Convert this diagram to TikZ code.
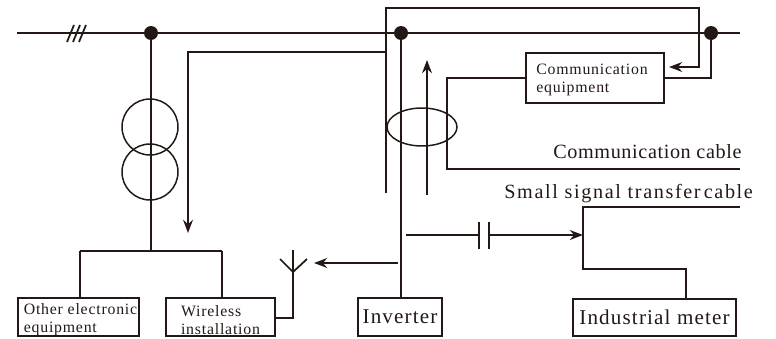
\documentclass[tikz,border=0pt]{standalone}
\usepackage{fontspec}
\setmainfont{Liberation Serif}
\usetikzlibrary{arrows.meta,calc,positioning,shapes.geometric}
\definecolor{inkline}{HTML}{231815}
\tikzset{
  block/.style={draw=inkline,rectangle,line width=1pt,inner sep=0pt,align=left,text=inkline},
  smalltext/.style={font=\addfontfeature{LetterSpace=5}\fontsize{9}{10.2}\selectfont},
  bigtext/.style={font=\addfontfeature{LetterSpace=5.5}\fontsize{12}{14}\selectfont},
  cabletext/.style={font=\addfontfeature{LetterSpace=3}\fontsize{11.5}{14}\selectfont,text=inkline,inner sep=0pt},
  busdot/.style={circle,fill=inkline,inner sep=0pt,minimum size=0.28cm},
  winding/.style={draw=inkline,circle,line width=0.85pt,inner sep=0pt,minimum size=1.12cm},
  clamp/.style={draw=inkline,ellipse,line width=0.85pt,inner sep=0pt,minimum width=1.4cm,minimum height=0.76cm},
  wire/.style={draw=inkline,line width=1pt}
}
\begin{document}
\begin{tikzpicture}[>=Stealth,x=0.02cm,y=-0.02cm]
  \useasboundingbox (0,0) rectangle (776,338);
  % bus
  \coordinate (busl) at (17,33);
  \coordinate (busr) at (740,33);
  \node[busdot] (dota) at (151,33) {};
  \node[busdot] (dotb) at (401,33) {};
  \node[busdot] (dotc) at (711,33) {};
  \draw[wire] (busl) -- (busr);
  \coordinate (hatcha) at (67,42);
  \coordinate (hatchb) at (73,42);
  \coordinate (hatchc) at (79,42);
  \draw[wire] (hatcha) -- ++(7,-17);
  \draw[wire] (hatchb) -- ++(7,-17);
  \draw[wire] (hatchc) -- ++(7,-17);
  % transformer
  \node[winding] (wta) at (150,127) {};
  \node[winding] (wtb) at (150,172) {};
  \coordinate (tee) at (151,251);
  \draw[wire] (dota) -- (tee);
  % boxes
  \node[block,smalltext,minimum width=2.42cm,minimum height=0.76cm] (other) at (78.5,317) {\rule{0pt}{9.6pt}\hspace*{0.08cm}Other electronic\\\hspace*{0.08cm}equipment};
  \node[block,smalltext,minimum width=2.18cm,minimum height=0.76cm] (wireless) at (220.5,317) {\rule{0pt}{9.6pt}Wireless\\installation};
  \node[block,bigtext,minimum width=1.68cm,minimum height=0.76cm] (inv) at (400,317) {Inverter};
  \node[block,bigtext,minimum width=3.26cm,minimum height=0.74cm] (meter) at (654.5,317.5) {Industrial meter};
  \node[block,smalltext,minimum width=2.76cm,minimum height=1cm] (comm) at (595,78) {\rule{0pt}{8.5pt}Communication\hspace*{0.12cm}\\equipment};
  \coordinate (otherdrop) at (80,251);
  \coordinate (wiredrop) at (222,251);
  \draw[wire] (otherdrop) -- (wiredrop);
  \draw[wire] (other.north -| otherdrop) -- (otherdrop);
  \draw[wire] (wireless.north -| wiredrop) -- (wiredrop);
  % antenna
  \coordinate (anttop) at (293,250);
  \coordinate (antfork) at (293,272);
  \coordinate (antl) at (280,259);
  \coordinate (antr) at (307,259);
  \draw[wire] (wireless.east |- 0,318) -| (anttop);
  \draw[wire] (antl) -- (antfork) -- (antr);
  \coordinate (radio) at (398,263);
  \coordinate (radioend) at (314,263);
  \draw[wire,->] (radio) -- (radioend);
  % conductors through the clamp
  \draw[wire] (dotb) -- (inv.north -| dotb);
  \coordinate (loopend) at (386,193);
  \coordinate (looptl) at (386,8);
  \coordinate (looptr) at (699,8);
  \coordinate (loopbr) at (699,67);
  \coordinate (loopin) at (669,67);
  \draw[wire,->] (loopend) -- (looptl) -- (looptr) -- (loopbr) -- (loopin);
  \coordinate (branch) at (386,52);
  \coordinate (branchc) at (188,52);
  \coordinate (branchend) at (188,233);
  \draw[wire,->] (branch) -- (branchc) -- (branchend);
  \coordinate (upa) at (427,195);
  \coordinate (upb) at (427,60);
  \draw[wire,->] (upa) -- (upb);
  \node[clamp] (ring) at (422,127) {};
  \coordinate (cabc) at (447,78);
  \coordinate (cabd) at (447,169);
  \coordinate (cabe) at (740,169);
  \draw[wire] (comm.west |- cabc) -- (cabc) -- (cabd) -- (cabe);
  \draw[wire] (comm.east) -| (dotc);
  \node[cabletext,anchor=base west] (cablea) at (553,158) {Communication cable};
  \node[cabletext,anchor=base west,font=\addfontfeature{LetterSpace=8}\fontsize{11.5}{14}\selectfont] (cableb) at (504,198) {Small signal transfer\hspace{-2pt} cable};
  % capacitor coupling
  \coordinate (capin) at (406,235);
  \coordinate (plata) at (479,235);
  \coordinate (platb) at (489,235);
  \coordinate (sigjoin) at (583,235);
  \draw[wire] (capin) -- (plata);
  \draw[wire,->] (platb) -- (sigjoin);
  \draw[wire] (plata) ++(0,-13) -- ++(0,27);
  \draw[wire] (platb) ++(0,-13) -- ++(0,27);
  \coordinate (sigr) at (740,207);
  \coordinate (sigt) at (583,207);
  \coordinate (sigb) at (583,269);
  \draw[wire] (sigr) -- (sigt) -- (sigb) -| (meter.north -| 686,0);
\end{tikzpicture}
\end{document}
